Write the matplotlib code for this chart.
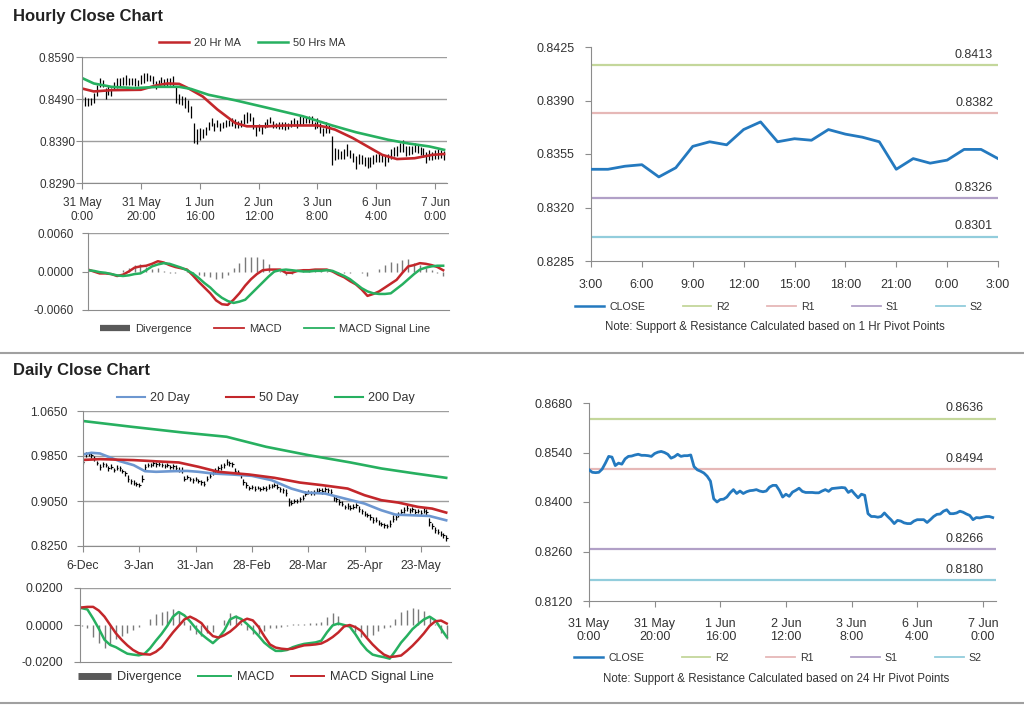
import matplotlib
matplotlib.use("Agg")
import matplotlib.pyplot as plt
from matplotlib.lines import Line2D

plt.rcParams["font.family"] = ["Liberation Sans", "DejaVu Sans"]

W, H = 1024, 706

# ---------------- data ----------------
hour_ticks = [0, 20, 40, 60, 80, 100, 120]
hour_labels = ["31 May\n0:00", "31 May\n20:00", "1 Jun\n16:00", "2 Jun\n12:00",
               "3 Jun\n8:00", "6 Jun\n4:00", "7 Jun\n0:00"]

hourly_close = [
    0.8491, 0.8484, 0.8483, 0.8484, 0.8493, 0.8510, 0.8529, 0.8527, 0.8503, 0.8510,
    0.8507, 0.8522, 0.8529, 0.8530, 0.8533, 0.8535, 0.8532, 0.8532, 0.8531, 0.8529,
    0.8537, 0.8541, 0.8543, 0.8540, 0.8535, 0.8524, 0.8528, 0.8535, 0.8529, 0.8531,
    0.8531, 0.8533, 0.8500, 0.8491, 0.8487, 0.8482, 0.8473, 0.8459, 0.8409, 0.8400,
    0.8407, 0.8408, 0.8414, 0.8426, 0.8435, 0.8424, 0.8431, 0.8424, 0.8429, 0.8432,
    0.8433, 0.8435, 0.8431, 0.8429, 0.8431, 0.8442, 0.8447, 0.8447, 0.8433, 0.8414,
    0.8422, 0.8416, 0.8428, 0.8433, 0.8439, 0.8430, 0.8427, 0.8427, 0.8427, 0.8426,
    0.8426, 0.8431, 0.8435, 0.8430, 0.8438, 0.8439, 0.8440, 0.8441, 0.8440, 0.8427,
    0.8433, 0.8422, 0.8412, 0.8422, 0.8419, 0.8367, 0.8359, 0.8359, 0.8357, 0.8359,
    0.8369, 0.8359, 0.8350, 0.8339, 0.8348, 0.8346, 0.8341, 0.8339, 0.8339, 0.8346,
    0.8350, 0.8350, 0.8350, 0.8342, 0.8350, 0.8359, 0.8365, 0.8366, 0.8374, 0.8378,
    0.8367, 0.8367, 0.8369, 0.8374, 0.8371, 0.8366, 0.8362, 0.8350, 0.8356, 0.8355,
    0.8357, 0.8359, 0.8359, 0.8356]
# high-low span of each hourly bar, in pips
hourly_range_pips = [
    18, 22, 20, 16, 24, 26, 22, 18, 28, 20, 18,
    16, 24, 18, 20, 22, 16, 18, 20, 14, 22, 24, 18, 16, 20, 18, 14, 16, 18, 20, 16, 24,
    40, 24, 22, 26, 28, 30, 46, 36, 30, 22, 20, 18, 20,
    18, 16, 20, 14, 18, 16, 20, 22, 18, 16, 24, 26, 20, 28, 22, 18, 20, 16, 18, 14,
    16, 14, 18, 16, 20, 14, 16, 18, 20, 22, 16, 14, 18, 20, 16, 22, 24, 18, 26, 20,
    70, 30, 22, 20, 24, 28, 20, 22, 30, 24, 20, 22, 26, 24, 20, 18, 22, 20, 24, 18,
    22, 20, 24, 22, 28, 24, 20, 18, 22, 20, 18, 22, 26, 24, 20, 22, 24, 18, 22]

ma20h_x = [0, 4, 10, 20, 25, 29, 33, 36, 41, 46, 52, 56, 63, 69, 75, 80, 83, 86, 92, 98,
           102, 107, 113, 119, 123]
ma20h_v = [0.8515, 0.8508, 0.8511, 0.8512, 0.8522, 0.8527, 0.8526, 0.8516, 0.8496, 0.8465,
           0.8433, 0.8425, 0.8425, 0.8427, 0.8427, 0.8427, 0.8423, 0.8417, 0.8397, 0.8373,
           0.8357, 0.8347, 0.8349, 0.8357, 0.8359]
ma50h_x = [0, 4, 10, 18, 26, 33, 37, 43, 52, 63, 75, 85, 93, 104, 111, 118, 123]
ma50h_v = [0.8540, 0.8527, 0.8519, 0.8516, 0.8519, 0.8519, 0.8514, 0.8500, 0.8487, 0.8469,
           0.8449, 0.8427, 0.8411, 0.8393, 0.8384, 0.8377, 0.8369]

macd_h_x = list(range(0, 124, 2))
macd_h = [
    0.0003, 0.0000, -0.0003, -0.0003, -0.0004, -0.0007, -0.0005, 0.0000, 0.0006, 0.0008,
    0.0009, 0.0012, 0.0016, 0.0014, 0.0010, 0.0007, 0.0005, 0.0003, -0.0006, -0.0016,
    -0.0025, -0.0034, -0.0045, -0.0051, -0.0052, -0.0044, -0.0034, -0.0022, -0.0012, -0.0004,
    0.0002, 0.0003, 0.0003, 0.0003, -0.0002, -0.0002, 0.0001, 0.0002, 0.0002, 0.0003,
    0.0003, 0.0003, 0.0000, -0.0005, -0.0009, -0.0015, -0.0020, -0.0028, -0.0038, -0.0035,
    -0.0031, -0.0025, -0.0019, -0.0013, -0.0002, 0.0008, 0.0010, 0.0013, 0.0012, 0.0010,
    0.0007, 0.0002]
signal_h = [
    0.0002, 0.0001, -0.0001, -0.0002, -0.0004, -0.0006, -0.0007, -0.0006, -0.0004, -0.0003,
    0.0002, 0.0008, 0.0011, 0.0013, 0.0012, 0.0009, 0.0006, 0.0002, -0.0003, -0.0010,
    -0.0018, -0.0025, -0.0034, -0.0041, -0.0046, -0.0049, -0.0047, -0.0044, -0.0035, -0.0026,
    -0.0017, -0.0008, 0.0000, 0.0002, 0.0003, 0.0002, 0.0001, 0.0000, 0.0000, 0.0001,
    0.0001, 0.0002, 0.0001, -0.0003, -0.0007, -0.0012, -0.0019, -0.0026, -0.0031, -0.0034,
    -0.0035, -0.0035, -0.0034, -0.0027, -0.0020, -0.0012, -0.0004, 0.0003, 0.0006, 0.0008,
    0.0009, 0.0009]

last24_close = [0.8345, 0.8345, 0.8347, 0.8348, 0.8340, 0.8346, 0.8360, 0.8363, 0.8361,
                0.8371, 0.8376, 0.8363, 0.8365, 0.8364, 0.8371, 0.8368, 0.8366, 0.8363,
                0.8345, 0.8352, 0.8349, 0.8351, 0.8358, 0.8358, 0.8352]
last24_ticks = [0, 3, 6, 9, 12, 15, 18, 21, 24]
last24_labels = ["3:00", "6:00", "9:00", "12:00", "15:00", "18:00", "21:00", "0:00", "3:00"]

pivot_names = ["R2", "R1", "S1", "S2"]
pivot_1h = [0.8413, 0.8382, 0.8326, 0.8301]
pivot_24h = [0.8636, 0.8494, 0.8266, 0.8180]
pivot_colors = ["#C4D79B", "#E6B8B7", "#B1A0C7", "#92CDDC"]

day_ticks = [0, 20, 40, 60, 80, 100, 120]
day_labels = ["6-Dec", "3-Jan", "31-Jan", "28-Feb", "28-Mar", "25-Apr", "23-May"]
daily_close = [
    0.9747, 0.9878, 0.9890, 0.9860, 0.9806, 0.9720, 0.9658, 0.9700, 0.9687, 0.9628,
    0.9660, 0.9598, 0.9640, 0.9628, 0.9590, 0.9540, 0.9450, 0.9400, 0.9378, 0.9350,
    0.9331, 0.9450, 0.9658, 0.9690, 0.9687, 0.9720, 0.9699, 0.9705, 0.9687, 0.9670,
    0.9690, 0.9658, 0.9665, 0.9640, 0.9610, 0.9598, 0.9450, 0.9470, 0.9438, 0.9420,
    0.9440, 0.9402, 0.9380, 0.9361, 0.9450, 0.9500, 0.9557, 0.9600, 0.9628, 0.9650,
    0.9687, 0.9747, 0.9720, 0.9699, 0.9580, 0.9560, 0.9509, 0.9390, 0.9330, 0.9283,
    0.9300, 0.9271, 0.9290, 0.9260, 0.9283, 0.9270, 0.9301, 0.9320, 0.9331, 0.9300,
    0.9260, 0.9242, 0.9200, 0.9034, 0.9022, 0.9050, 0.9046, 0.9081, 0.9110, 0.9182,
    0.9212, 0.9190, 0.9200, 0.9230, 0.9242, 0.9225, 0.9260, 0.9240, 0.9212, 0.9105,
    0.9080, 0.9034, 0.9000, 0.8945, 0.8960, 0.8927, 0.8950, 0.8974, 0.8903, 0.8870,
    0.8826, 0.8800, 0.8766, 0.8707, 0.8720, 0.8665, 0.8640, 0.8618, 0.8606, 0.8650,
    0.8737, 0.8760, 0.8808, 0.8856, 0.8890, 0.8927, 0.8885, 0.8900, 0.8856, 0.8870,
    0.8844, 0.8880, 0.8856, 0.8677, 0.8600, 0.8529, 0.8500, 0.8469, 0.8440, 0.8390]
daily_range_pips = [
    80, 90, 70, 85, 95, 75, 100, 80, 70, 90,
    85, 75, 90, 80, 70, 95, 110, 85, 90, 80,
    75, 120, 100, 80, 70, 85, 90, 75, 80, 70,
    85, 80, 75, 90, 85, 110, 90, 75, 80, 85,
    70, 80, 90, 75, 100, 80, 85, 90, 95, 110,
    90, 100, 85, 95, 120, 90, 85, 110, 100, 80,
    75, 85, 70, 80, 75, 90, 85, 80, 75, 90,
    85, 90, 120, 140, 100, 85, 80, 90, 100, 85,
    80, 75, 90, 85, 80, 95, 90, 85, 100, 110,
    90, 100, 85, 80, 95, 90, 85, 80, 100, 90,
    95, 85, 90, 100, 85, 95, 80, 90, 85, 110,
    120, 95, 100, 90, 110, 100, 95, 85, 90, 80,
    85, 90, 95, 140, 110, 100, 90, 95, 85, 100]

ma20d_x = [0, 3, 6, 9, 13, 18, 22, 26, 32, 37, 41, 46, 53, 60, 67, 74, 79, 86, 93, 100,
           106, 111, 117, 123, 129]
ma20d_v = [0.9878, 0.9907, 0.9895, 0.9836, 0.9759, 0.9687, 0.9580, 0.9569, 0.9580, 0.9585,
           0.9569, 0.9539, 0.9521, 0.9497, 0.9420, 0.9271, 0.9200, 0.9182, 0.9093, 0.9004,
           0.8885, 0.8808, 0.8796, 0.8784, 0.8707]
ma50d_x = [0, 6, 18, 29, 34, 41, 48, 59, 68, 77, 85, 94, 100, 106, 112, 119, 124, 129]
ma50d_v = [0.9780, 0.9794, 0.9777, 0.9747, 0.9735, 0.9658, 0.9569, 0.9521, 0.9462, 0.9378,
           0.9331, 0.9271, 0.9153, 0.9064, 0.9022, 0.8945, 0.8915, 0.8844]
ma200d_x = [0, 17, 35, 51, 65, 80, 95, 106, 118, 129]
ma200d_v = [1.0472, 1.0371, 1.0270, 1.0192, 1.0014, 0.9866, 0.9735, 0.9628, 0.9539, 0.9462]

macd_d_x = list(range(0, 130, 2))
macd_d = [
    0.0091, 0.0084, 0.0035, -0.0020, -0.0080, -0.0108, -0.0120, -0.0138, -0.0155, -0.0160,
    -0.0164, -0.0156, -0.0125, -0.0085, -0.0048, -0.0005, 0.0045, 0.0070, 0.0052, 0.0020,
    -0.0018, -0.0050, -0.0075, -0.0098, -0.0070, -0.0030, 0.0030, 0.0045, 0.0032, 0.0005,
    -0.0025, -0.0058, -0.0095, -0.0120, -0.0140, -0.0140, -0.0135, -0.0120, -0.0110, -0.0102,
    -0.0098, -0.0094, -0.0085, -0.0040, -0.0002, 0.0008, 0.0000, -0.0009, -0.0050, -0.0098,
    -0.0135, -0.0160, -0.0168, -0.0174, -0.0182, -0.0140, -0.0095, -0.0060, -0.0022, 0.0005,
    0.0030, 0.0045, 0.0025, -0.0020, -0.0065]
signal_d = [
    0.0095, 0.0098, 0.0098, 0.0078, 0.0045, 0.0000, -0.0045, -0.0080, -0.0110, -0.0135,
    -0.0152, -0.0158, -0.0160, -0.0145, -0.0120, -0.0080, -0.0040, -0.0005, 0.0030, 0.0045,
    0.0030, 0.0010, -0.0030, -0.0060, -0.0068, -0.0055, -0.0036, -0.0010, 0.0020, 0.0034,
    0.0025, -0.0010, -0.0060, -0.0105, -0.0122, -0.0128, -0.0131, -0.0128, -0.0118, -0.0110,
    -0.0108, -0.0105, -0.0100, -0.0085, -0.0065, -0.0040, -0.0008, 0.0000, -0.0012, -0.0032,
    -0.0070, -0.0105, -0.0135, -0.0160, -0.0173, -0.0170, -0.0165, -0.0140, -0.0112, -0.0080,
    -0.0045, -0.0005, 0.0020, 0.0024, 0.0008]

# ---------------- styling ----------------
RED = "#C3272B"
GREEN = "#27B060"
BLUE = "#2479BF"
LBLUE = "#6D97D0"
GRID = "#9E9E9E"
AXC = "#8C8C8C"
TXT = "#333333"

fig = plt.figure(figsize=(W / 100, H / 100), dpi=100)


def add_ax(x0, y0, x1, y1):
    return fig.add_axes([x0 / W, 1 - y1 / H, (x1 - x0) / W, (y1 - y0) / H])


def style(ax, fs=8.5, xpad=6, ypad=2):
    for s in ("top", "right"):
        ax.spines[s].set_visible(False)
    for s in ("left", "bottom"):
        ax.spines[s].set_color(AXC)
    ax.tick_params(colors=AXC, labelcolor=TXT, labelsize=fs, length=4, width=0.8)
    ax.tick_params(axis="x", pad=xpad)
    ax.tick_params(axis="y", pad=ypad)
    ax.yaxis.set_major_formatter(plt.FormatStrFormatter("%.4f"))


def legend(handles, labels, cx, cy, fs, hl, cs, htp=0.45):
    fig.legend(handles, labels, loc="center", bbox_to_anchor=(cx / W, 1 - cy / H),
               ncol=len(handles), frameon=False, fontsize=fs, handlelength=hl,
               columnspacing=cs, handletextpad=htp, borderpad=0, borderaxespad=0,
               labelcolor=TXT)


# ---- hourly price with MAs ----
ax = add_ax(82, 57, 447, 183)
hours = list(range(len(hourly_close)))
hi = [c + r / 2e4 for c, r in zip(hourly_close, hourly_range_pips)]
lo = [c - r / 2e4 for c, r in zip(hourly_close, hourly_range_pips)]
ax.vlines(hours, lo, hi, color="black", lw=0.9)
ax.plot(ma20h_x, ma20h_v, color=RED, lw=1.9)
ax.plot(ma50h_x, ma50h_v, color=GREEN, lw=1.9)
ax.set_xlim(0, 124)
ax.set_ylim(0.8290, 0.8590)
ax.set_yticks([0.8290, 0.8390, 0.8490, 0.8590])
ax.set_xticks(hour_ticks)
ax.set_xticklabels(hour_labels)
ax.yaxis.grid(True, color=GRID, lw=1)
ax.set_axisbelow(True)
style(ax, xpad=6, ypad=1)
legend([Line2D([], [], color=RED, lw=1.8), Line2D([], [], color=GREEN, lw=1.8)],
       ["20 Hr MA", "50 Hrs MA"], 252, 43, 8, 2.7, 1.6)

# ---- hourly MACD ----
ax = add_ax(88, 233, 449, 310)
div_h = [m - s for m, s in zip(macd_h, signal_h)]
ax.vlines(macd_h_x, 0, div_h, color="#7A7A7A", lw=1.0)
ax.plot(macd_h_x, macd_h, color=RED, lw=1.8)
ax.plot(macd_h_x, signal_h, color=GREEN, lw=1.8)
ax.set_xlim(0, 124)
ax.set_ylim(-0.0060, 0.0060)
ax.set_yticks([-0.0060, 0.0000, 0.0060])
ax.set_xticks([])
ax.axhline(0.0060, color=GRID, lw=1)
style(ax, ypad=6)
legend([Line2D([], [], color="#595959", lw=4.5, solid_capstyle="butt"),
        Line2D([], [], color=RED, lw=1.3), Line2D([], [], color=GREEN, lw=1.3)],
       ["Divergence", "MACD", "MACD Signal Line"], 265, 329, 8, 2.7, 2.0)

# ---- last 24 hours with 1 Hr pivots ----
ax = add_ax(591, 47, 998, 261)
ax.plot(range(len(last24_close)), last24_close, color=BLUE, lw=2.0, zorder=3)
for v, c in zip(pivot_1h, pivot_colors):
    ax.axhline(v, color=c, lw=1.6)
    ax.annotate(f"{v:.4f}", xy=(0.988, v), xycoords=("axes fraction", "data"),
                xytext=(0, 3), textcoords="offset points", ha="right", va="bottom",
                fontsize=9, color=TXT)
ax.set_xlim(0, 24)
ax.set_ylim(0.8285, 0.8425)
ax.set_yticks([0.8285, 0.8320, 0.8355, 0.8390, 0.8425])
ax.set_xticks(last24_ticks)
ax.set_xticklabels(last24_labels)
style(ax, fs=9, xpad=9, ypad=8)
legend([Line2D([], [], color=BLUE, lw=1.8)] +
       [Line2D([], [], color=c, lw=1.3) for c in pivot_colors],
       ["CLOSE"] + pivot_names, 779, 307, 7.7, 2.7, 3.5)
fig.text(775 / W, 1 - 327 / H, "Note: Support & Resistance Calculated based on 1 Hr Pivot Points",
         ha="center", va="center", fontsize=8.3, color=TXT)

# ---- daily price with MAs ----
ax = add_ax(83, 411, 449, 546)
days = list(range(len(daily_close)))
dhi = [c + r / 2e4 for c, r in zip(daily_close, daily_range_pips)]
dlo = [c - r / 2e4 for c, r in zip(daily_close, daily_range_pips)]
ax.vlines(days, dlo, dhi, color="black", lw=0.9)
ax.hlines(daily_close, days, [d + 0.5 for d in days], color="black", lw=0.8)
ax.plot(ma20d_x, ma20d_v, color=LBLUE, lw=1.9)
ax.plot(ma50d_x, ma50d_v, color=RED, lw=1.9)
ax.plot(ma200d_x, ma200d_v, color=GREEN, lw=1.9)
ax.set_xlim(0, 130)
ax.set_ylim(0.8250, 1.0650)
ax.set_yticks([0.8250, 0.9050, 0.9850, 1.0650])
ax.set_xticks(day_ticks)
ax.set_xticklabels(day_labels)
ax.yaxis.grid(True, color=GRID, lw=1)
ax.set_axisbelow(True)
style(ax, fs=8.8, xpad=6, ypad=7)
legend([Line2D([], [], color=LBLUE, lw=1.5), Line2D([], [], color=RED, lw=1.5),
        Line2D([], [], color=GREEN, lw=1.5)],
       ["20 Day", "50 Day", "200 Day"], 266, 398, 9, 2.2, 2.9)

# ---- daily MACD ----
ax = add_ax(80, 588, 451, 662)
div_d = [m - s for m, s in zip(macd_d, signal_d)]
ax.vlines(macd_d_x, 0, div_d, color="#7A7A7A", lw=1.0)
ax.plot(macd_d_x, macd_d, color=GREEN, lw=1.8)
ax.plot(macd_d_x, signal_d, color=RED, lw=1.8)
ax.set_xlim(-0.6, 129.5)
ax.set_ylim(-0.0200, 0.0200)
ax.set_yticks([-0.0200, 0.0000, 0.0200])
ax.set_xticks([])
ax.axhline(0.0200, color=GRID, lw=1)
style(ax, fs=8.8, ypad=8)
legend([Line2D([], [], color="#595959", lw=5, solid_capstyle="butt"),
        Line2D([], [], color=GREEN, lw=1.4), Line2D([], [], color=RED, lw=1.4)],
       ["Divergence", "MACD", "MACD Signal Line"], 256, 677, 9.2, 2.6, 1.3)

# ---- hourly close over the week with 24 Hr pivots ----
ax = add_ax(589, 403, 996, 601)
ax.plot(hours, hourly_close, color=BLUE, lw=2.0, zorder=3)
for v, c in zip(pivot_24h, pivot_colors):
    ax.axhline(v, color=c, lw=1.6)
    ax.annotate(f"{v:.4f}", xy=(0.97, v), xycoords=("axes fraction", "data"),
                xytext=(0, 3), textcoords="offset points", ha="right", va="bottom",
                fontsize=9, color=TXT)
ax.set_xlim(0, 124)
ax.set_ylim(0.8120, 0.8680)
ax.set_yticks([0.8120, 0.8260, 0.8400, 0.8540, 0.8680])
ax.set_xticks(hour_ticks)
ax.set_xticklabels(hour_labels)
style(ax, fs=9, xpad=8, ypad=8)
legend([Line2D([], [], color=BLUE, lw=1.8)] +
       [Line2D([], [], color=c, lw=1.3) for c in pivot_colors],
       ["CLOSE"] + pivot_names, 778, 658, 7.7, 2.7, 3.5)
fig.text(776 / W, 1 - 679 / H, "Note: Support & Resistance Calculated based on 24 Hr Pivot Points",
         ha="center", va="center", fontsize=8.3, color=TXT)

# ---- titles and separators ----
fig.text(13 / W, 1 - 16 / H, "Hourly Close Chart", fontsize=12, fontweight="bold",
         va="center", ha="left", color="#222222")
fig.text(13 / W, 1 - 370 / H, "Daily Close Chart", fontsize=12, fontweight="bold",
         va="center", ha="left", color="#222222")
for y in (353, 703):
    fig.add_artist(Line2D([0.0, 1.0], [1 - y / H] * 2, color="#A0A0A0", lw=1.5))

fig.savefig("out.png", dpi=100)
